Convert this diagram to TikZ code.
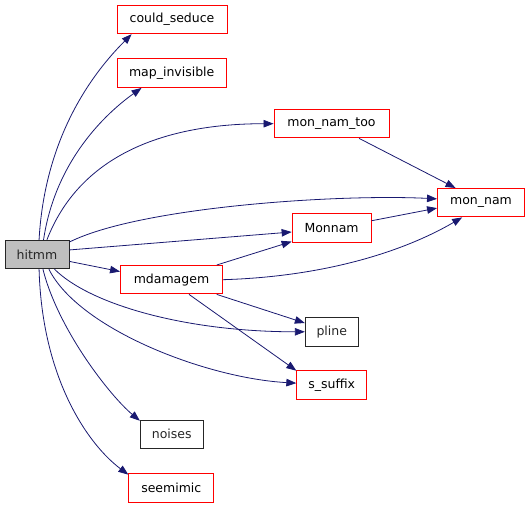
\documentclass[tikz,border=0pt]{standalone}
\usepackage{fontspec}
\setmainfont{DejaVu Sans}
\usetikzlibrary{arrows.meta}
\definecolor{bleunuit}{HTML}{191970}
\definecolor{rouge}{HTML}{FF0000}
\definecolor{grisfond}{HTML}{BFBFBF}
\definecolor{noir}{HTML}{262626}
\tikzset{
  fn/.style={color=rouge, draw=rouge, text=black, line width=0.9pt, minimum height=28.5pt, inner sep=0pt},
  fnnoir/.style={fn, color=noir, draw=noir},
  appel/.style={color=bleunuit, draw=bleunuit, line width=0.8pt, -{Triangle[length=10pt,width=7.5pt]}},
}
\begin{document}
\fontsize{12.5}{14}\selectfont
\begin{tikzpicture}[x=1pt,y=-1pt]
    % Cadre : 531 x 508
    \useasboundingbox (0,0) rectangle (531,508);

    % Les fonctions
    \node[fnnoir, fill=grisfond, minimum width=64pt] (hitmm) at (37,254.5) {hitmm};
    \node[fn, minimum width=110pt] (could_seduce) at (172,19.5) {could\_seduce};
    \node[fn, minimum width=109pt] (map_invisible) at (171.7,73.2) {map\_invisible};
    \node[fn, minimum width=115pt] (mon_nam_too) at (331.5,123.7) {mon\_nam\_too};
    \node[fn, minimum width=87pt] (mon_nam) at (481,202.7) {mon\_nam};
    \node[fn, minimum width=79pt] (Monnam) at (331.6,227.8) {Monnam};
    \node[fn, minimum width=102pt] (mdamagem) at (171.5,279.7) {mdamagem};
    \node[fnnoir, minimum width=53pt] (pline) at (331.8,331.8) {pline};
    \node[fn, minimum width=70pt] (s_suffix) at (331.8,385) {s\_suffix};
    \node[fnnoir, minimum width=63pt] (noises) at (171.8,434.3) {noises};
    \node[fn, minimum width=85pt] (seemimic) at (171.3,487.8) {seemimic};

    % Appels depuis hitmm
    \draw[appel] (hitmm.82) .. controls +(5,-90) and +(-50,50) .. (could_seduce.-160);
    \draw[appel] (hitmm.66) .. controls +(12,-80) and +(-35,25) .. (map_invisible.-154);
    \draw[appel] (hitmm.56) .. controls +(35,-90) and +(-100,0) .. (mon_nam_too.west);
    \draw[appel] (hitmm.21) .. controls +(70,-35) and +(-100,-5) .. (mon_nam.175);
    \draw[appel] (hitmm.8) -- (Monnam.-174);
    \draw[appel] (hitmm.-12) -- (mdamagem.171);
    \draw[appel] (hitmm.-40) .. controls +(35,35) and +(-120,0) .. (pline.west);
    \draw[appel] (hitmm.-51) .. controls +(30,60) and +(-90,-5) .. (s_suffix.177);
    \draw[appel] (hitmm.-68) .. controls +(15,60) and +(-30,-25) .. (noises.157);
    \draw[appel] (hitmm.-82) .. controls +(3,110) and +(-40,-30) .. (seemimic.163);

    % Appels depuis mdamagem
    \draw[appel] (mdamagem.18) -- (Monnam.-161);
    \draw[appel] (mdamagem.east) .. controls +(100,-3) and +(-60,35) .. (mon_nam.-142);
    \draw[appel] (mdamagem.-18) -- (pline.162);
    \draw[appel] (mdamagem.-40) -- (s_suffix.158);

    % vers mon_nam
    \draw[appel] (Monnam.10) -- (mon_nam.-173);
    \draw[appel] (mon_nam_too.-28) -- (mon_nam.150);
\end{tikzpicture}
\end{document}
